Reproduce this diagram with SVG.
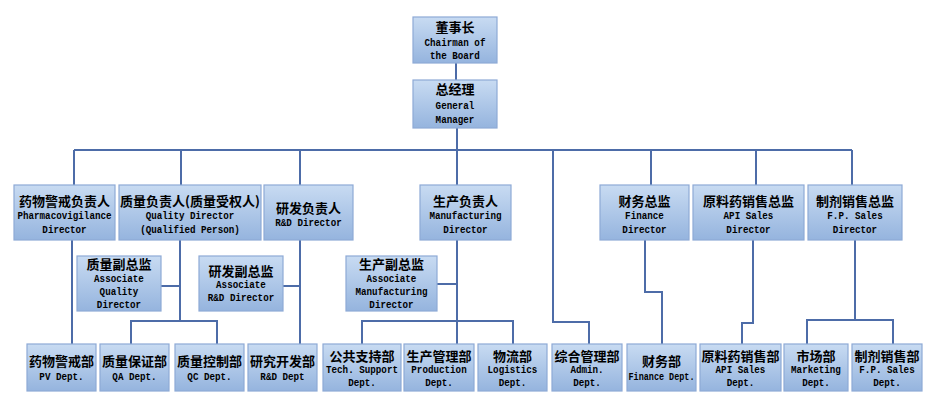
<svg xmlns="http://www.w3.org/2000/svg" width="935" height="411" viewBox="0 0 935 411">
<defs>
<linearGradient id="g" x1="0" y1="0" x2="0" y2="1">
<stop offset="0" stop-color="#c8dbf2"/>
<stop offset="1" stop-color="#95b4de"/>
</linearGradient>
</defs>
<style>
.b{fill:url(#g);stroke:#8eaad6;stroke-width:1.2}
.c{font-family:"Noto Sans CJK SC","Noto Sans CJK JP",sans-serif;font-weight:bold;font-size:13px;fill:#000;text-anchor:middle}
.e{font-family:"Liberation Mono",monospace;font-weight:bold;font-size:11px;fill:#000;text-anchor:middle;transform-box:fill-box;transform-origin:center;transform:scaleX(0.84)}
.f{font-family:"Liberation Mono",monospace;font-weight:bold;font-size:11px;fill:#000;text-anchor:middle}
.l{fill:none;stroke:#4d6ca8;stroke-width:2}
</style>
<rect width="935" height="411" fill="#fff"/>
<g id="connectors" class="l">
<path d="M456 63V80"/>
<path d="M457 128V150"/>
<path d="M74 150H852"/>
<path d="M74 150V185M181 150V185M300 150V185M457 150V185M651 150V185M756 150V185M852 150V185"/>
<path d="M72 240V344"/>
<path d="M180 240V321M161 286H180M131 344V321H217V344"/>
<path d="M300 240V344M283 286H300"/>
<path d="M457 240V344M437 284H457M362 344V321H513V344"/>
<path d="M553 150V322H589V344"/>
<path d="M645 240V292H662V344"/>
<path d="M753 240V323H742V344"/>
<path d="M855 240V320M807 344V320H893V344"/>
</g>
<g id="chairman"><rect class="b" x="413" y="17" width="84" height="46"/><text class="c" x="455" y="32">董事长</text><text class="e" x="455" y="46">Chairman of</text><text class="e" x="455" y="59">the Board</text></g>
<g id="gm"><rect class="b" x="413" y="80" width="84" height="48"/><text class="c" x="455" y="94">总经理</text><text class="e" x="455" y="109">General</text><text class="e" x="455" y="123">Manager</text></g>

<g id="pv-director"><rect class="b" x="14" y="185" width="101" height="55"/><text class="c" x="64.5" y="206">药物警戒负责人</text><text class="e" x="64.5" y="219">Pharmacovigilance</text><text class="e" x="64.5" y="233">Director</text></g>
<g id="quality-director"><rect class="b" x="119" y="185" width="142" height="55"/><text class="c" x="190" y="206">质量负责人(质量受权人)</text><text class="e" x="190" y="219">Quality Director</text><text class="e" x="190" y="233">(Qualified Person)</text></g>
<g id="rd-director"><rect class="b" x="264" y="185" width="89" height="55"/><text class="c" x="308.5" y="213">研发负责人</text><text class="e" x="308.5" y="226">R&amp;D Director</text></g>
<g id="mfg-director"><rect class="b" x="420" y="185" width="91" height="55"/><text class="c" x="465.5" y="206">生产负责人</text><text class="e" x="465.5" y="219">Manufacturing</text><text class="e" x="465.5" y="233">Director</text></g>
<g id="finance-director"><rect class="b" x="600" y="185" width="89" height="55"/><text class="c" x="644.5" y="206">财务总监</text><text class="e" x="644.5" y="219">Finance</text><text class="e" x="644.5" y="233">Director</text></g>
<g id="api-director"><rect class="b" x="693" y="185" width="111" height="55"/><text class="c" x="748.5" y="206">原料药销售总监</text><text class="e" x="748.5" y="219">API Sales</text><text class="e" x="748.5" y="233">Director</text></g>
<g id="fp-director"><rect class="b" x="808" y="185" width="94" height="55"/><text class="c" x="855" y="206">制剂销售总监</text><text class="e" x="855" y="219">F.P. Sales</text><text class="e" x="855" y="233">Director</text></g>

<g id="assoc-quality"><rect class="b" x="77" y="256" width="84" height="55"/><text class="c" x="119" y="269">质量副总监</text><text class="e" x="119" y="282">Associate</text><text class="e" x="119" y="295">Quality</text><text class="e" x="119" y="308">Director</text></g>
<g id="assoc-rd"><rect class="b" x="199" y="256" width="84" height="55"/><text class="c" x="241" y="276">研发副总监</text><text class="e" x="241" y="288">Associate</text><text class="e" x="241" y="301">R&amp;D Director</text></g>
<g id="assoc-mfg"><rect class="b" x="346" y="256" width="91" height="55"/><text class="c" x="391.5" y="269">生产副总监</text><text class="e" x="391.5" y="282">Associate</text><text class="e" x="391.5" y="295">Manufacturing</text><text class="e" x="391.5" y="308">Director</text></g>

<g id="pv-dept"><rect class="b" x="27" y="344" width="69" height="47"/><text class="c" x="61.5" y="366">药物警戒部</text><text class="e" x="61.5" y="380">PV Dept.</text></g>
<g id="qa-dept"><rect class="b" x="100" y="344" width="69" height="47"/><text class="c" x="134.5" y="366">质量保证部</text><text class="e" x="134.5" y="380">QA Dept.</text></g>
<g id="qc-dept"><rect class="b" x="175" y="344" width="69" height="47"/><text class="c" x="209.5" y="366">质量控制部</text><text class="e" x="209.5" y="380">QC Dept.</text></g>
<g id="rd-dept"><rect class="b" x="248" y="344" width="69" height="47"/><text class="c" x="282.5" y="366">研究开发部</text><text class="e" x="282.5" y="380">R&amp;D Dept</text></g>
<g id="tech-dept"><rect class="b" x="323" y="344" width="78" height="47"/><text class="c" x="362" y="361">公共支持部</text><text class="e" x="362" y="373">Tech. Support</text><text class="e" x="362" y="386">Dept.</text></g>
<g id="prod-dept"><rect class="b" x="404" y="344" width="70" height="47"/><text class="c" x="439" y="361">生产管理部</text><text class="e" x="439" y="373">Production</text><text class="e" x="439" y="386">Dept.</text></g>
<g id="log-dept"><rect class="b" x="478" y="344" width="69" height="47"/><text class="c" x="512.5" y="361">物流部</text><text class="e" x="512.5" y="373">Logistics</text><text class="e" x="512.5" y="386">Dept.</text></g>
<g id="admin-dept"><rect class="b" x="552" y="344" width="70" height="47"/><text class="c" x="587" y="361">综合管理部</text><text class="e" x="587" y="373">Admin.</text><text class="e" x="587" y="386">Dept.</text></g>
<g id="fin-dept"><rect class="b" x="627" y="344" width="69" height="47"/><text class="c" x="661.5" y="366">财务部</text><text class="f" x="661.5" y="380" textLength="66" lengthAdjust="spacingAndGlyphs">Finance Dept.</text></g>
<g id="api-dept"><rect class="b" x="700" y="344" width="81" height="47"/><text class="c" x="740.5" y="361">原料药销售部</text><text class="e" x="740.5" y="373">API Sales</text><text class="e" x="740.5" y="386">Dept.</text></g>
<g id="mkt-dept"><rect class="b" x="784" y="344" width="64" height="47"/><text class="c" x="816" y="361">市场部</text><text class="e" x="816" y="373">Marketing</text><text class="e" x="816" y="386">Dept.</text></g>
<g id="fp-dept"><rect class="b" x="852" y="344" width="70" height="47"/><text class="c" x="887" y="361">制剂销售部</text><text class="e" x="887" y="373">F.P. Sales</text><text class="e" x="887" y="386">Dept.</text></g>
</svg>
